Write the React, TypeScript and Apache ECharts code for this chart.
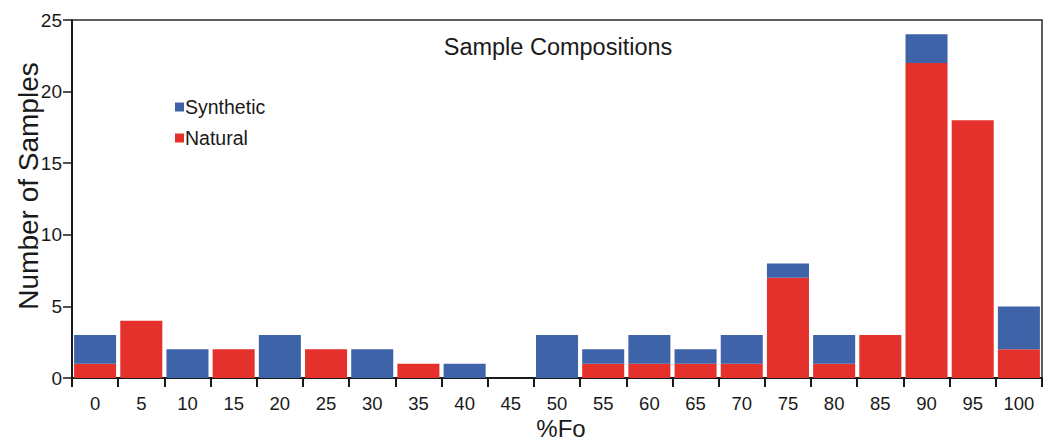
import React, { useEffect, useRef } from "react";
import * as echarts from "echarts";

const categories = ["0","5","10","15","20","25","30","35","40","45","50","55","60","65","70","75","80","85","90","95","100"];
const natural =   [1, 4, 0, 2, 0, 2, 0, 1, 0, 0, 0, 1, 1, 1, 1, 7, 1, 3, 22, 18, 2];
const synthetic = [2, 0, 2, 0, 3, 0, 2, 0, 1, 0, 3, 1, 2, 1, 2, 1, 2, 0, 2, 0, 3];
const yTicks = [0, 5, 10, 15, 20, 25];

const FONT = "Arial, 'Liberation Sans', sans-serif";
const INK = "#1a1a1a";

export default function App() {
  const ref = useRef<HTMLDivElement>(null);
  useEffect(() => {
    if (!ref.current) return;
    const chart = echarts.init(ref.current, undefined, { renderer: "svg" });
    chart.setOption({
      animation: false,
      backgroundColor: "#ffffff",
      textStyle: { fontFamily: FONT },
      title: {
        text: "Sample Compositions",
        left: 553,
        textAlign: "center",
        top: 30,
        textStyle: { fontFamily: FONT, fontSize: 23.5, fontWeight: "normal", color: INK },
      },
      legend: {
        data: ["Synthetic", "Natural"],
        orient: "vertical",
        left: 170,
        top: 92,
        icon: "rect",
        itemWidth: 9,
        itemHeight: 9,
        itemGap: 11,
        textStyle: { fontFamily: FONT, fontSize: 19.5, color: INK, padding: [0, 0, 0, -4] },
      },
      graphic: [
        {
          type: "text",
          x: 28,
          y: 186,
          rotation: Math.PI / 2,
          style: {
            text: "Number of Samples",
            fontFamily: FONT,
            fontSize: 28,
            fill: INK,
            textAlign: "center",
            textVerticalAlign: "middle",
          },
        },
        {
          type: "text",
          x: 561,
          y: 428.5,
          style: {
            text: "%Fo",
            fontFamily: FONT,
            fontSize: 24,
            fill: INK,
            textAlign: "center",
            textVerticalAlign: "middle",
          },
        },
      ],
      grid: {
        left: 72,
        right: 4,
        top: 20,
        bottom: 64,
        show: true,
        borderColor: "#2a2a2a",
        borderWidth: 1.5,
        backgroundColor: "transparent",
      },
      xAxis: {
        type: "category",
        data: categories,
        axisLine: { lineStyle: { color: INK, width: 2 } },
        axisTick: { show: true, length: 9, lineStyle: { color: INK, width: 2 } },
        axisLabel: { fontFamily: FONT, fontSize: 18.5, color: INK, margin: 16, interval: 0 },
      },
      yAxis: {
        type: "value",
        min: 0,
        max: 25,
        interval: 5,
        axisLine: { show: true, lineStyle: { color: INK, width: 2 } },
        axisTick: { show: true, length: 9, lineStyle: { color: INK, width: 1.5 } },
        axisLabel: {
          fontFamily: FONT,
          fontSize: 19,
          color: INK,
          margin: 10,
          formatter: (v: number) => (yTicks.includes(v) ? String(v) : ""),
        },
        splitLine: { show: false },
      },
      series: [
        {
          name: "Natural",
          type: "bar",
          stack: "total",
          data: natural,
          barCategoryGap: "9%",
          itemStyle: { color: "#e5312b" },
        },
        {
          name: "Synthetic",
          type: "bar",
          stack: "total",
          data: synthetic,
          barCategoryGap: "9%",
          itemStyle: { color: "#3e63a8" },
        },
      ],
    });
    return () => chart.dispose();
  }, []);
  return <div ref={ref} style={{ width: 1046, height: 442, position: "absolute", left: 0, top: 0 }} />;
}
